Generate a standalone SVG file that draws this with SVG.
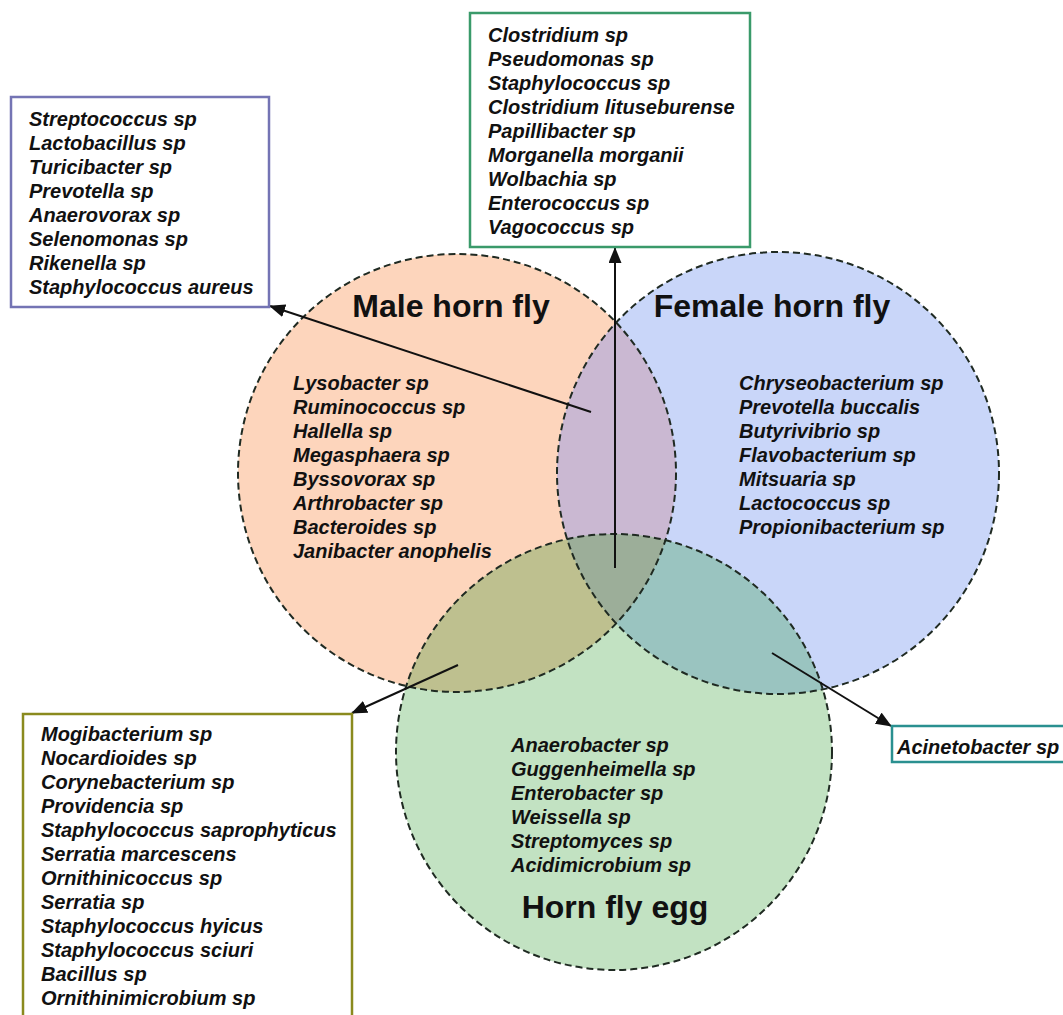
<svg xmlns="http://www.w3.org/2000/svg" width="1063" height="1015" viewBox="0 0 1063 1015">
<style>
.sp{font-family:"Liberation Sans",Arial,sans-serif;font-weight:bold;font-style:italic;font-size:20px;fill:#111}
.title{font-family:"Liberation Sans",Arial,sans-serif;font-weight:bold;font-size:32px;fill:#111;text-anchor:middle}
.outline{fill:none;stroke:#1f2a22;stroke-width:2;stroke-dasharray:7 4}
.box{fill:#fff;stroke-width:2.5}
.conn{stroke:#111;stroke-width:2;fill:none;marker-end:url(#arr)}
</style>
<defs>
<marker id="arr" markerUnits="userSpaceOnUse" markerWidth="16" markerHeight="14" refX="15" refY="6.5" orient="auto">
<path d="M0,0 L16,6.5 L0,13 z" fill="#111"/>
</marker>
<clipPath id="cMale"><circle cx="457" cy="473" r="219"/></clipPath>
<clipPath id="cFemale"><circle cx="778" cy="473" r="221"/></clipPath>
</defs>
<rect width="1063" height="1015" fill="#fff"/>

<g id="fills">
<circle cx="457" cy="473" r="219" fill="#fdd5bc"/>
<circle cx="778" cy="473" r="221" fill="#c9d6f9"/>
<circle cx="614" cy="752" r="218" fill="#c2e2c2"/>
<circle cx="778" cy="473" r="221" fill="#cab8d2" clip-path="url(#cMale)"/>
<circle cx="614" cy="752" r="218" fill="#bec08f" clip-path="url(#cMale)"/>
<circle cx="614" cy="752" r="218" fill="#9ac4c0" clip-path="url(#cFemale)"/>
<g clip-path="url(#cMale)"><circle cx="614" cy="752" r="218" fill="#9cae99" clip-path="url(#cFemale)"/></g>
</g>

<g id="male">
<circle class="outline" cx="457" cy="473" r="219"/>
<text class="title" x="451" y="317">Male horn fly</text>
<text class="sp" x="293" y="390">Lysobacter sp</text>
<text class="sp" x="293" y="414">Ruminococcus sp</text>
<text class="sp" x="293" y="438">Hallella sp</text>
<text class="sp" x="293" y="462">Megasphaera sp</text>
<text class="sp" x="293" y="486">Byssovorax sp</text>
<text class="sp" x="293" y="510">Arthrobacter sp</text>
<text class="sp" x="293" y="534">Bacteroides sp</text>
<text class="sp" x="293" y="558">Janibacter anophelis</text>
</g>

<g id="female">
<circle class="outline" cx="778" cy="473" r="221"/>
<text class="title" x="772" y="317">Female horn fly</text>
<text class="sp" x="739" y="390">Chryseobacterium sp</text>
<text class="sp" x="739" y="414">Prevotella buccalis</text>
<text class="sp" x="739" y="438">Butyrivibrio sp</text>
<text class="sp" x="739" y="462">Flavobacterium sp</text>
<text class="sp" x="739" y="486">Mitsuaria sp</text>
<text class="sp" x="739" y="510">Lactococcus sp</text>
<text class="sp" x="739" y="534">Propionibacterium sp</text>
</g>

<g id="egg">
<circle class="outline" cx="614" cy="752" r="218"/>
<text class="sp" x="511" y="752">Anaerobacter sp</text>
<text class="sp" x="511" y="776">Guggenheimella sp</text>
<text class="sp" x="511" y="800">Enterobacter sp</text>
<text class="sp" x="511" y="824">Weissella sp</text>
<text class="sp" x="511" y="848">Streptomyces sp</text>
<text class="sp" x="511" y="872">Acidimicrobium sp</text>
<text class="title" x="615" y="918">Horn fly egg</text>
</g>

<g id="connectors">
<line class="conn" x1="615" y1="568" x2="615" y2="248"/>
<line class="conn" x1="591" y1="412" x2="270" y2="306"/>
<line class="conn" x1="458" y1="665" x2="352" y2="713"/>
<line class="conn" x1="772" y1="653" x2="891" y2="726"/>
</g>

<g id="box-all-three">
<rect class="box" x="470" y="13" width="280" height="234" stroke="#3a9a6a"/>
<text class="sp" x="488" y="42">Clostridium sp</text>
<text class="sp" x="488" y="66">Pseudomonas sp</text>
<text class="sp" x="488" y="90">Staphylococcus sp</text>
<text class="sp" x="488" y="114">Clostridium lituseburense</text>
<text class="sp" x="488" y="138">Papillibacter sp</text>
<text class="sp" x="488" y="162">Morganella morganii</text>
<text class="sp" x="488" y="186">Wolbachia sp</text>
<text class="sp" x="488" y="210">Enterococcus sp</text>
<text class="sp" x="488" y="234">Vagococcus sp</text>
</g>

<g id="box-male-female">
<rect class="box" x="11" y="97" width="258" height="210" stroke="#7474b4"/>
<text class="sp" x="29" y="126">Streptococcus sp</text>
<text class="sp" x="29" y="150">Lactobacillus sp</text>
<text class="sp" x="29" y="174">Turicibacter sp</text>
<text class="sp" x="29" y="198">Prevotella sp</text>
<text class="sp" x="29" y="222">Anaerovorax sp</text>
<text class="sp" x="29" y="246">Selenomonas sp</text>
<text class="sp" x="29" y="270">Rikenella sp</text>
<text class="sp" x="29" y="294">Staphylococcus aureus</text>
</g>

<g id="box-male-egg">
<rect class="box" x="23" y="714" width="329" height="320" stroke="#8a8a1e"/>
<text class="sp" x="41" y="741">Mogibacterium sp</text>
<text class="sp" x="41" y="765">Nocardioides sp</text>
<text class="sp" x="41" y="789">Corynebacterium sp</text>
<text class="sp" x="41" y="813">Providencia sp</text>
<text class="sp" x="41" y="837">Staphylococcus saprophyticus</text>
<text class="sp" x="41" y="861">Serratia marcescens</text>
<text class="sp" x="41" y="885">Ornithinicoccus sp</text>
<text class="sp" x="41" y="909">Serratia sp</text>
<text class="sp" x="41" y="933">Staphylococcus hyicus</text>
<text class="sp" x="41" y="957">Staphylococcus sciuri</text>
<text class="sp" x="41" y="981">Bacillus sp</text>
<text class="sp" x="41" y="1005">Ornithinimicrobium sp</text>
</g>

<g id="box-female-egg">
<rect class="box" x="892" y="726" width="190" height="36" stroke="#2a9090"/>
<text class="sp" x="897" y="754">Acinetobacter sp</text>
</g>
</svg>
